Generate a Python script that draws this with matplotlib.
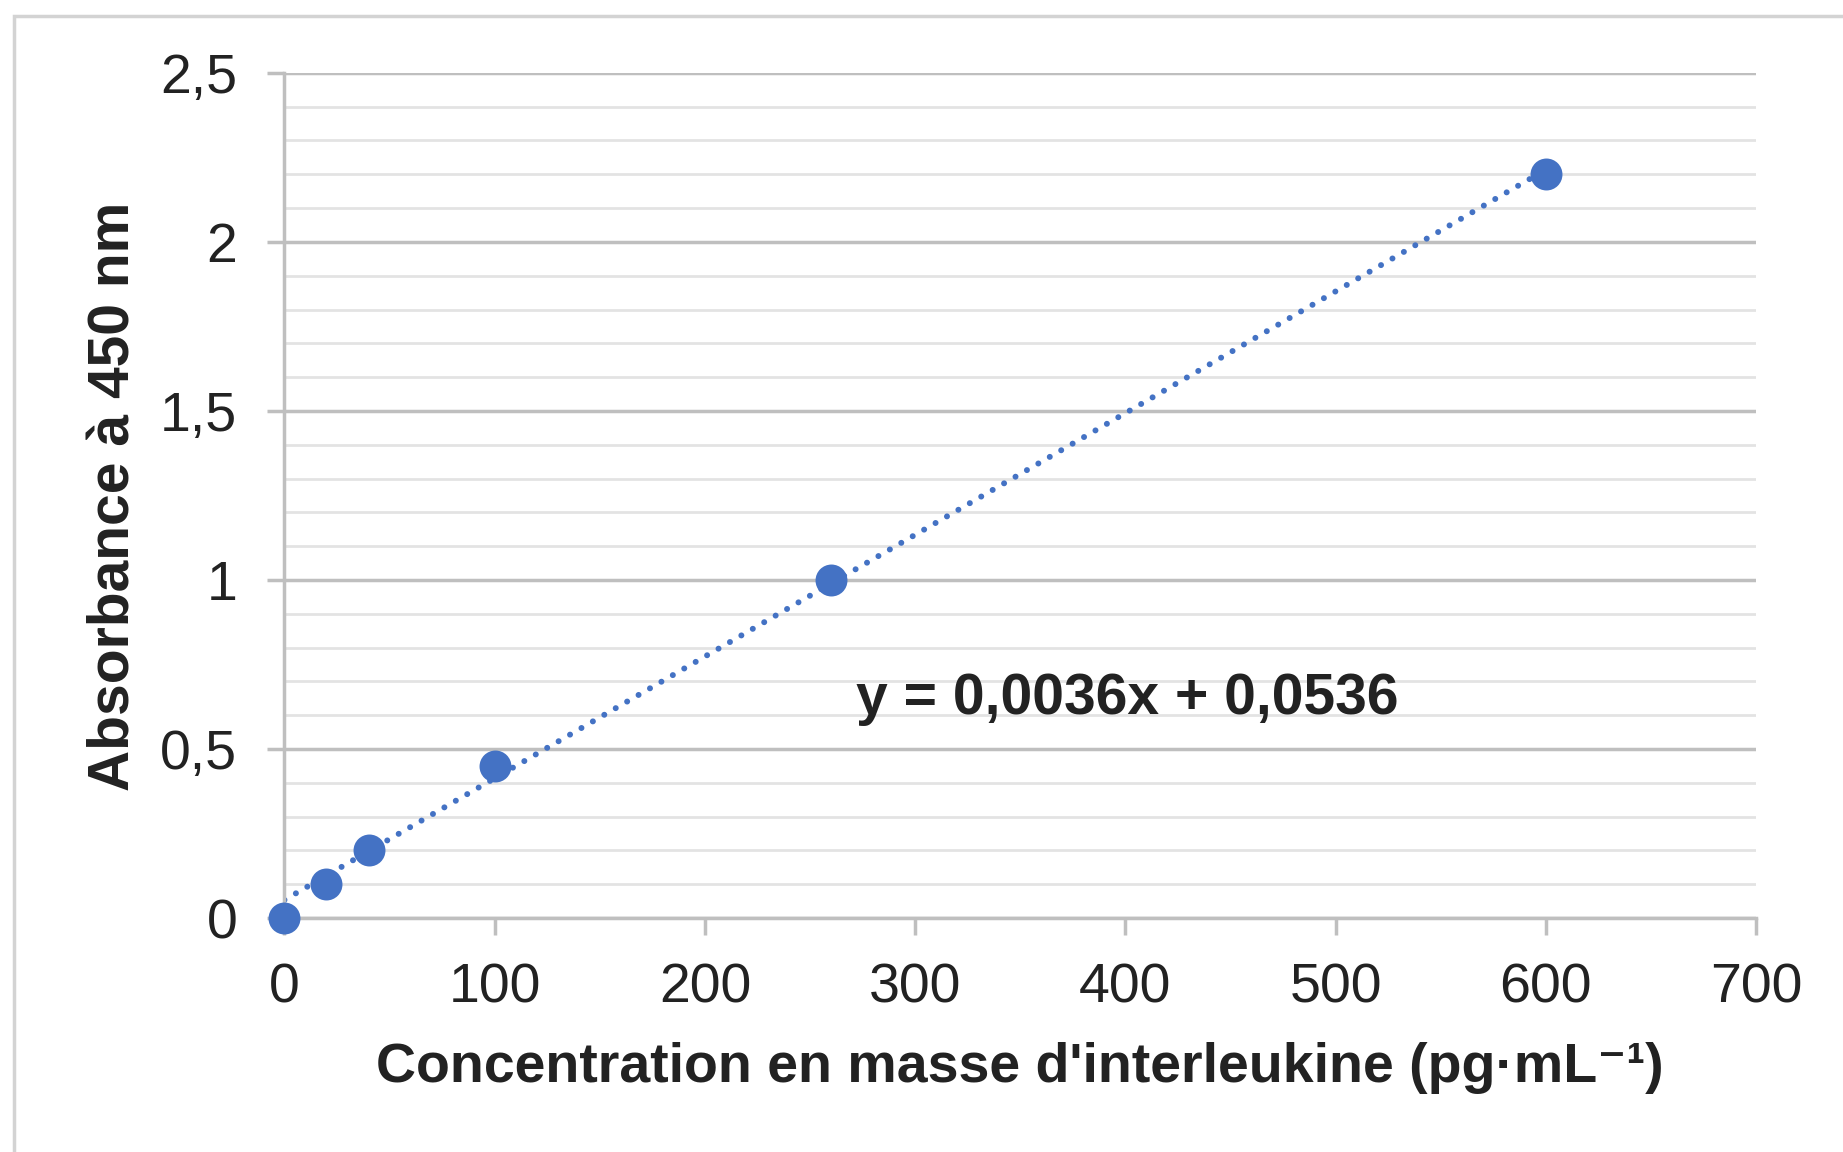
import matplotlib
matplotlib.use('Agg')
from matplotlib import pyplot as plt
from matplotlib.patches import Rectangle
from matplotlib.ticker import MultipleLocator, FixedLocator
import numpy as np

# data
concentration = [0, 20, 40, 100, 260, 600]
absorbance = [0, 0.10, 0.20, 0.45, 1.0, 2.2]
slope = 0.0036
intercept = 0.0536
equation = 'y = 0,0036x + 0,0536'

x_ticks = [0, 100, 200, 300, 400, 500, 600, 700]
y_ticks = [0, 0.5, 1, 1.5, 2, 2.5]
y_tick_labels = ['0', '0,5', '1', '1,5', '2', '2,5']

blue = '#4472C4'
text_col = '#222222'
major_grid = '#BFBFBF'
minor_grid = '#E3E3E3'

plt.rcParams['font.family'] = ['Liberation Sans', 'DejaVu Sans']

fig = plt.figure(figsize=(18.43, 11.52), dpi=100)
fig.patches.append(Rectangle((12 / 1568, -0.05), 1.1, 1 - 14 / 980 + 0.05,
                             transform=fig.transFigure, fill=False,
                             edgecolor='#D3D3D3', linewidth=2.5))

ax = fig.add_axes([242 / 1568, 1 - 781 / 980, (1494 - 242) / 1568,
                   (781 - 62) / 980])
ax.set_xlim(0, 700)
ax.set_ylim(0, 2.5)

ax.yaxis.set_major_locator(FixedLocator(y_ticks))
ax.set_yticklabels(y_tick_labels)
ax.yaxis.set_minor_locator(MultipleLocator(0.1))
ax.xaxis.set_major_locator(FixedLocator(x_ticks))

ax.grid(axis='y', which='major', color=major_grid, linewidth=2.5, zorder=0)
ax.grid(axis='y', which='minor', color=minor_grid, linewidth=2.0, zorder=0)
ax.set_axisbelow(True)

for side in ['top', 'right']:
    ax.spines[side].set_visible(False)
for side in ['left', 'bottom']:
    ax.spines[side].set_color(major_grid)
    ax.spines[side].set_linewidth(2.5)

ax.tick_params(axis='both', which='major', length=12, width=2.5,
               color=major_grid, labelsize=40, labelcolor=text_col)
ax.tick_params(axis='x', which='major', pad=20)
ax.tick_params(axis='y', which='major', pad=22)
ax.tick_params(axis='y', which='minor', length=0)

# trend line
xs = np.array([concentration[0], concentration[-1]])
ax.plot(xs, slope * xs + intercept, linestyle=(0, (0.01, 2.2)),
        color=blue, linewidth=4.3, dash_capstyle='round', zorder=2)
ax.plot(concentration, absorbance, 'o', color=blue, markersize=23,
        markeredgewidth=0, zorder=3, clip_on=False)

ax.text(272, 0.647, equation, fontsize=41, fontweight='bold',
        color=text_col, va='center', ha='left')

ax.set_xlabel("Concentration en masse d'interleukine (pg\u00b7mL\u207b\u00b9)",
              fontsize=40, fontweight='bold', color=text_col)
ax.set_ylabel('Absorbance à 450 nm', fontsize=41, fontweight='bold',
              color=text_col)
ax.xaxis.set_label_coords(0.5, -0.177)
ax.xaxis.label.set_va('center')
ax.yaxis.set_label_coords(-0.1158, 0.499)
ax.yaxis.label.set_va('center')

fig.savefig('out.png', dpi=100)
